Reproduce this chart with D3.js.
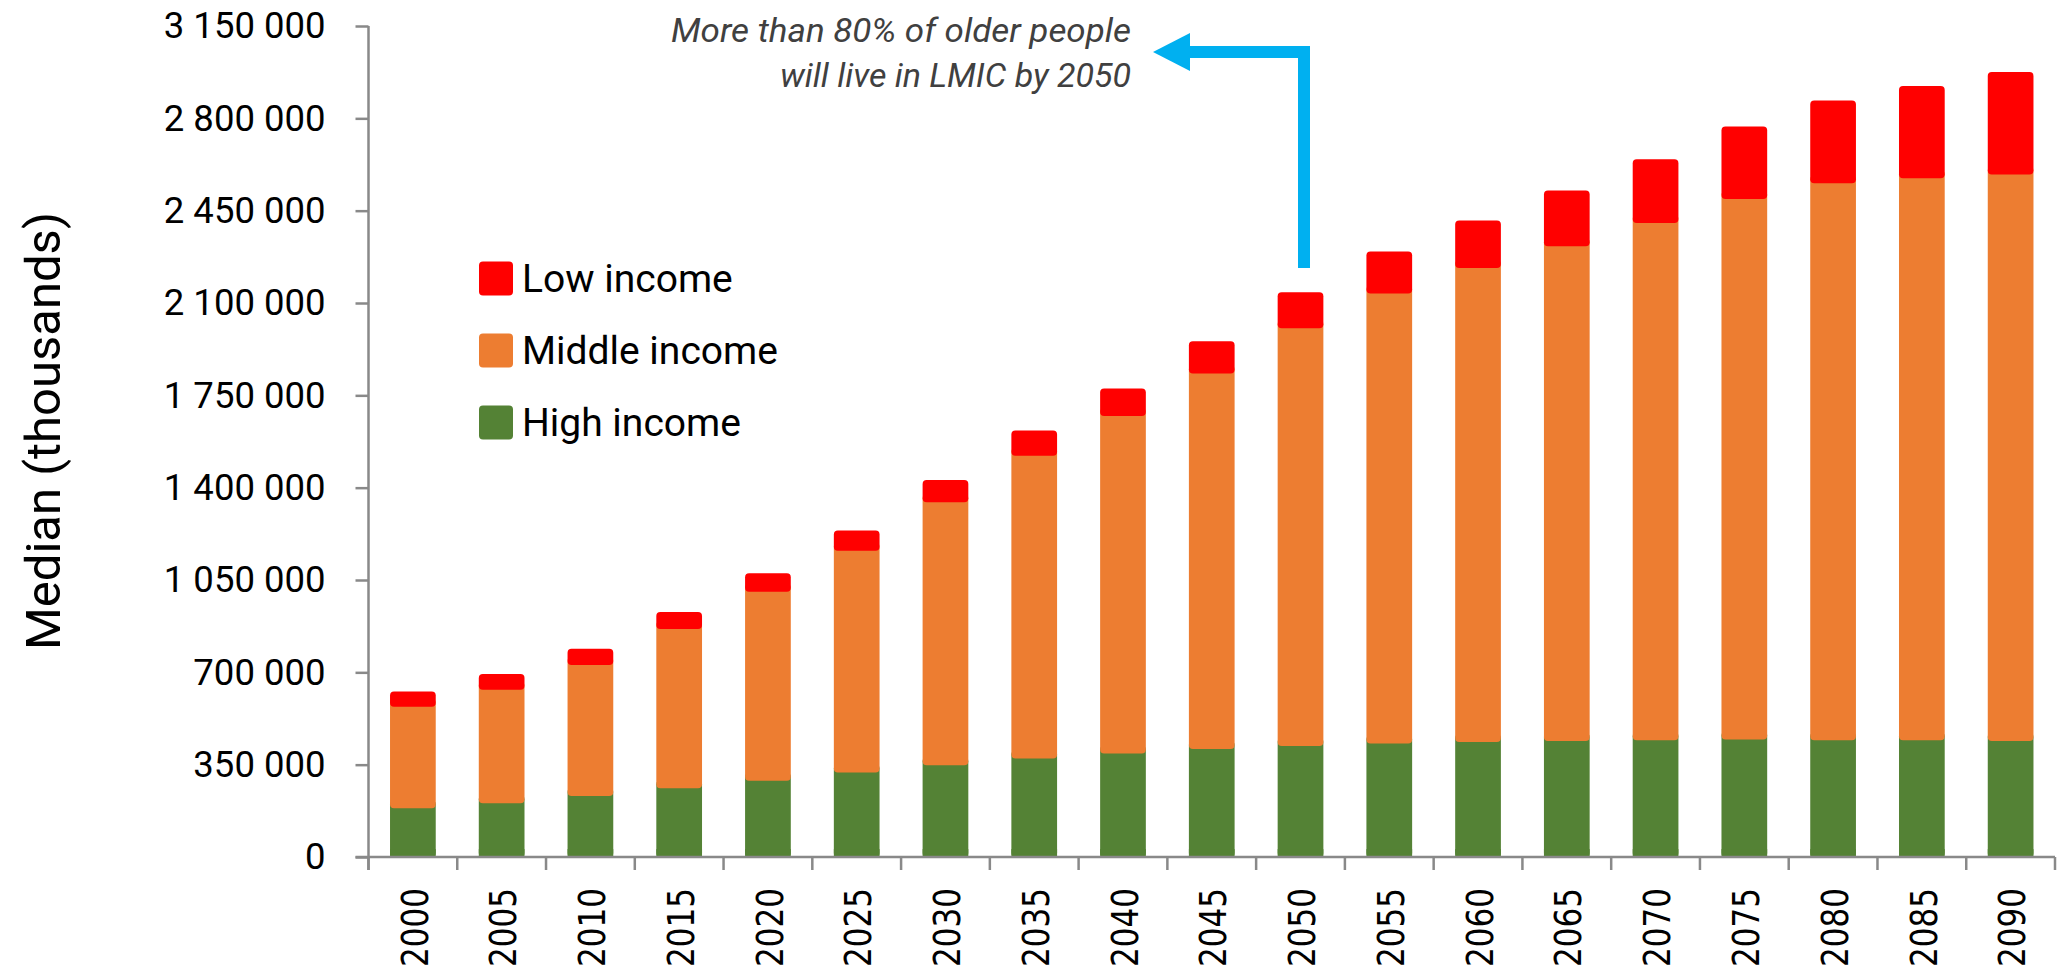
<!DOCTYPE html>
<html>
<head>
<meta charset="utf-8">
<script src="https://cdn.jsdelivr.net/npm/d3@7"></script>
<style>
  html, body { margin: 0; padding: 0; background: #fff; }
  svg { display: block; }
</style>
</head>
<body>
<svg id="chart" width="2057" height="972"></svg>
<script>
// ---- Data (thousands) ----
const years = ["2000","2005","2010","2015","2020","2025","2030","2035","2040","2045","2050","2055","2060","2065","2070","2075","2080","2085","2090"];
const highIncome   = [185000, 204000, 231000, 261000, 289000, 320000, 348000, 373000, 392000, 409000, 421000, 430000, 436000, 440000, 443000, 445000, 443000, 443000, 440000];
const middleIncome = [385000, 430000, 497000, 603000, 716000, 841000, 997000, 1148000, 1280000, 1424000, 1583000, 1706000, 1797000, 1875000, 1960000, 2049000, 2111000, 2130000, 2147000];
const lowIncome    = [57000, 60000, 61000, 65000, 71000, 77000, 84000, 96000, 104000, 122000, 137000, 159000, 180000, 211000, 242000, 275000, 314000, 350000, 389000];
const yTicks = [0, 350000, 700000, 1050000, 1400000, 1750000, 2100000, 2450000, 2800000, 3150000];
const seriesNames = ["Low income", "Middle income", "High income"];
const seriesKeys = ["high", "middle", "low"];
const colors = { high: "#548235", middle: "#ED7D31", low: "#FF0000" };
const legendKeys = ["low", "middle", "high"];
const annotationLines = ["More than 80% of older people", "will live in LMIC by 2050"];
const yTitle = "Median (thousands)";

const rows = years.map((y, i) => ({ year: y, high: highIncome[i], middle: middleIncome[i], low: lowIncome[i] }));

// ---- Layout ----
const svg = d3.select("#chart");
const x0 = 368.5, x1 = 2055, yBottom = 857, yTop = 26;
const axisColor = "#898989";
const sansFont = "Roboto, 'Open Sans', 'Noto Sans', sans-serif";

const x = d3.scaleBand().domain(years).range([x0, x1]).paddingInner(0.485).paddingOuter(0.2425);
const y = d3.scaleLinear().domain([0, 3150000]).range([yBottom, yTop]);

// ---- Bars ----
const stack = d3.stack().keys(seriesKeys)(rows);
const overlap = 8;
stack.forEach((layer, li) => {
  const key = layer.key;
  const isTop = li === stack.length - 1;
  svg.append("g").selectAll("rect").data(layer).join("rect")
    .attr("x", d => x(d.data.year))
    .attr("width", x.bandwidth())
    .attr("y", d => y(d[1]) - (isTop ? 0 : overlap))
    .attr("height", d => y(d[0]) - y(d[1]) + (isTop ? 0 : overlap))
    .attr("rx", 4).attr("ry", 4)
    .attr("fill", colors[key]);
});
// square off bar bottoms at baseline
svg.append("g").selectAll("rect").data(rows).join("rect")
  .attr("x", d => x(d.year))
  .attr("width", x.bandwidth())
  .attr("y", d => y(Math.min(d.high, 30000)))
  .attr("height", d => yBottom - y(Math.min(d.high, 30000)))
  .attr("fill", colors.high);

// ---- Y axis ----
const yAxis = svg.append("g").attr("transform", `translate(${x0},0)`)
  .call(d3.axisLeft(y).tickValues(yTicks).tickSize(13).tickPadding(30)
    .tickFormat(v => d3.format(",")(v).replace(/,/g, " ")));
yAxis.select(".domain").attr("stroke", axisColor).attr("stroke-width", 2.5)
  .attr("d", `M0,${yTop}V${yBottom + 13}`);
yAxis.selectAll(".tick line").attr("stroke", axisColor).attr("stroke-width", 2.5);
yAxis.selectAll(".tick text").attr("fill", "#000").style("font-family", sansFont).style("font-size", "36.5px");

// ---- X axis ----
const xAxisG = svg.append("g");
xAxisG.append("line").attr("x1", x0 - 13).attr("x2", x1).attr("y1", yBottom).attr("y2", yBottom)
  .attr("stroke", axisColor).attr("stroke-width", 2.5);
const boundaries = d3.range(years.length + 1).map(i => x0 + i * x.step());
xAxisG.selectAll("line.tk").data(boundaries).join("line").attr("class", "tk")
  .attr("x1", d => d).attr("x2", d => d).attr("y1", yBottom).attr("y2", yBottom + 13)
  .attr("stroke", axisColor).attr("stroke-width", 2.5);
xAxisG.selectAll("text").data(years).join("text")
  .attr("transform", d => `translate(${x(d) + x.bandwidth() / 2 + 1},888) rotate(-90)`)
  .attr("text-anchor", "end")
  .attr("dy", "0.36em")
  .attr("textLength", 79).attr("lengthAdjust", "spacingAndGlyphs")
  .style("font-family", "'DejaVu Sans', sans-serif").style("font-size", "38px")
  .attr("fill", "#000")
  .text(d => d);

// ---- Y title ----
svg.append("text")
  .attr("transform", "translate(60,431) rotate(-90)")
  .attr("text-anchor", "middle")
  .style("font-family", sansFont).style("font-size", "49px")
  .attr("fill", "#000")
  .text(yTitle);

// ---- Legend ----
const legend = svg.append("g");
legendKeys.forEach((k, i) => {
  const cy = 278.5 + i * 72;
  legend.append("rect").attr("x", 479).attr("y", cy - 17).attr("width", 34).attr("height", 34)
    .attr("rx", 4).attr("fill", colors[k]);
  legend.append("text").attr("x", 522).attr("y", cy + 13)
    .style("font-family", sansFont).style("font-size", "39px").attr("fill", "#000")
    .text(seriesNames[i]);
});

// ---- Annotation ----
const ann = svg.append("g");
const annWidths = [460, 351];
annotationLines.forEach((t, i) => {
  ann.append("text").attr("x", 1131).attr("y", 42 + i * 45)
    .attr("text-anchor", "end")
    .attr("textLength", annWidths[i]).attr("lengthAdjust", "spacingAndGlyphs")
    .style("font-family", sansFont).style("font-size", "34px").style("font-style", "italic")
    .attr("fill", "#404040")
    .text(t);
});
ann.append("path")
  .attr("d", "M1304,268V52H1188")
  .attr("fill", "none").attr("stroke", "#00B0F0").attr("stroke-width", 12).attr("stroke-linejoin", "miter");
ann.append("path")
  .attr("d", "M1153,52L1190,33L1190,71Z")
  .attr("fill", "#00B0F0");
</script>
</body>
</html>
